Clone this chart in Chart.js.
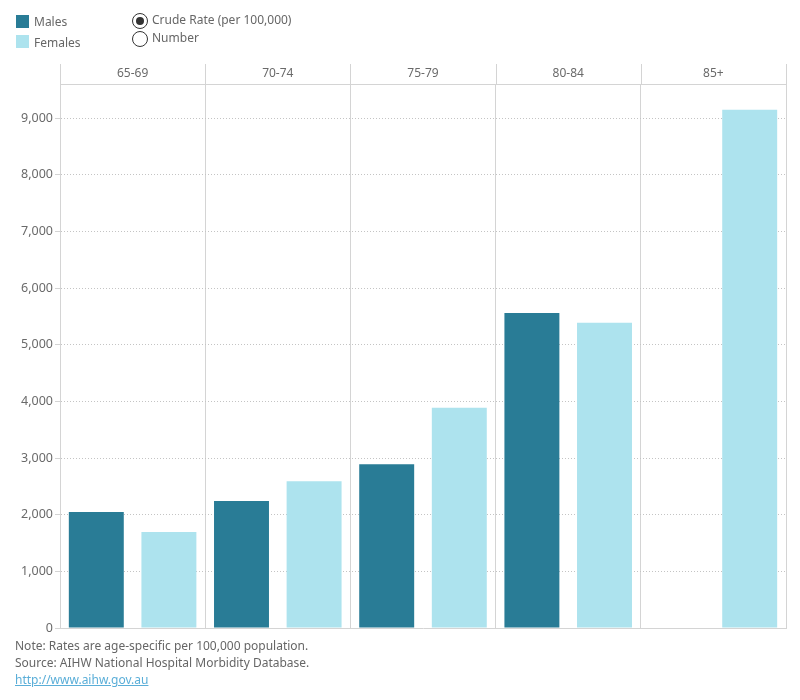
<!DOCTYPE html>
<html>
<head>
<meta charset="utf-8">
<script src="https://cdn.jsdelivr.net/npm/chart.js@4"></script>
<style>
  body { margin: 0; background: #fff; font-family: "Noto Sans", sans-serif; color: #666; }
  #wrap { position: relative; width: 800px; height: 700px; }
  #chartBox { position: absolute; left: 0; top: 0; width: 800px; height: 640px; }
  .leg { position: absolute; font-size: 12px; color: #666; }
  .sw { position: absolute; width: 13px; height: 13px; }
  .radio { position: absolute; width: 14px; height: 14px; border: 1px solid #333; border-radius: 50%; background: #fff; }
  .radio.on::after { content: ""; position: absolute; left: 3px; top: 3px; width: 8px; height: 8px; border-radius: 50%; background: #333; }
  .note { position: absolute; left: 15px; font-size: 12px; color: #666; }
  .note a { color: #5aaed8; }
</style>
</head>
<body>
<div id="wrap">
  <div id="chartBox"><canvas id="grafica"></canvas></div>
  <div class="sw" style="left:16px;top:15px;background:#297c96"></div>
  <div class="leg" style="left:34px;top:13px">Males</div>
  <div class="sw" style="left:16px;top:35px;background:#ade3ee"></div>
  <div class="leg" style="left:34px;top:34px">Females</div>
  <div class="radio on" style="left:132px;top:13px"></div>
  <div class="leg" style="left:152px;top:11px">Crude Rate (per 100,000)</div>
  <div class="radio" style="left:132px;top:31px"></div>
  <div class="leg" style="left:152px;top:29px">Number</div>
  <div class="note" style="top:637px">Note: Rates are age-specific per 100,000 population.</div>
  <div class="note" style="top:654px">Source: AIHW National Hospital Morbidity Database.</div>
  <div class="note" style="top:671px"><a href="#">http://www.aihw.gov.au</a></div>
</div>
<script>
const grupos = ["65-69", "70-74", "75-79", "80-84", "85+"];
const hombres = [2045, 2240, 2890, 5560, null];
const mujeres = [1695, 2590, 3885, 5385, 9145];
const ticksY = [0, 1000, 2000, 3000, 4000, 5000, 6000, 7000, 8000, 9000];

const colorLinea = "#d4d4d4";
const colorTexto = "#6a6a6a";

// cabecera de paneles (etiquetas de grupo encima del area)
const cabecera = {
  id: "cabecera",
  afterDraw(chart) {
    const ctx = chart.ctx;
    const area = chart.chartArea;
    const x = chart.scales.x;
    const alto = 20;
    ctx.save();
    ctx.strokeStyle = colorLinea;
    ctx.lineWidth = 1;
    ctx.beginPath();
    ctx.moveTo(area.left, area.top + 0.5);
    ctx.lineTo(area.right, area.top + 0.5);
    for (let i = 0; i <= grupos.length; i++) {
      const px = i < grupos.length ? x.getPixelForValue(i) - (x.width / grupos.length) / 2 : area.right;
      const p = Math.round(px) + 0.5;
      ctx.moveTo(p, area.top - alto);
      ctx.lineTo(p, area.top);
    }
    ctx.stroke();
    ctx.fillStyle = colorTexto;
    ctx.font = "12px 'Noto Sans'";
    ctx.textAlign = "center";
    ctx.textBaseline = "middle";
    grupos.forEach((g, i) => ctx.fillText(g, x.getPixelForValue(i), area.top - alto / 2));
    ctx.restore();
  }
};

new Chart(document.getElementById("grafica"), {
  type: "bar",
  data: {
    labels: grupos,
    datasets: [
      { label: "Males", data: hombres, backgroundColor: "#297c96" },
      { label: "Females", data: mujeres, backgroundColor: "#ade3ee" }
    ]
  },
  options: {
    responsive: true,
    maintainAspectRatio: false,
    animation: false,
    datasets: { bar: { categoryPercentage: 1, barPercentage: 0.757 } },
    layout: { padding: { top: 84, right: 14, bottom: 12, left: 0 } },
    plugins: { legend: { display: false }, tooltip: { enabled: false } },
    scales: {
      x: {
        grid: { offset: true, color: colorLinea, drawTicks: false },
        border: { color: colorLinea },
        ticks: { display: false },
        afterFit(s) { s.height = 0; }
      },
      y: {
        min: 0,
        max: 9600,
        afterBuildTicks(s) { s.ticks = ticksY.map(v => ({ value: v })); },
        grid: {
          color: ctx => ctx.tick && ctx.tick.value === 0 ? "rgba(0,0,0,0)" : "#c4c4c4",
          tickBorderDash: [],
          tickColor: colorLinea,
          tickLength: 5
        },
        border: { color: colorLinea, dash: [1, 2] },
        ticks: {
          color: colorTexto,
          font: { family: "Noto Sans", size: 12.5 },
          padding: 2,
          callback: v => v.toLocaleString("en-US")
        },
        afterFit(s) { s.width = 60; }
      }
    }
  },
  plugins: [cabecera]
});
</script>
</body>
</html>
